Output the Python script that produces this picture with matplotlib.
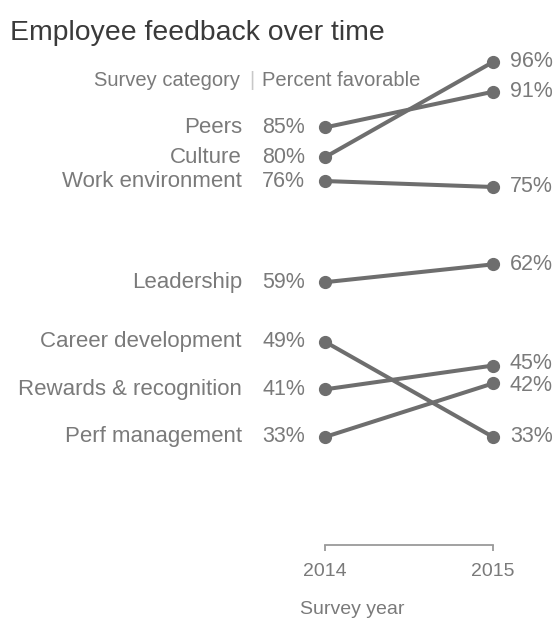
import matplotlib
matplotlib.use("Agg")
import matplotlib.pyplot as plt

plt.rcParams["font.family"] = ["Liberation Sans", "DejaVu Sans"]

# data
categories = ["Peers", "Culture", "Work environment", "Leadership",
              "Career development", "Rewards & recognition", "Perf management"]
values_2014 = [85, 80, 76, 59, 49, 41, 33]
values_2015 = [91, 96, 75, 62, 33, 45, 42]
years = [2014, 2015]
year_labels = ["2014", "2015"]

LINE = "#6e6e6e"
TEXT = "#7a7a7a"
TITLE = "#3a3a3a"

W, H = 557, 621
fig = plt.figure(figsize=(W / 100, H / 100), dpi=100)

# axes box placed so the two year columns sit where the reference has them
ax = fig.add_axes([325 / W, (H - 545) / H, 168 / W, (545 - 38) / H])
ax.set_xlim(years[0], years[1])
ax.set_ylim(14.85, 100.03)

# small vertical nudges for the crowded 45% / 42% labels on the right
right_nudge = {"Rewards & recognition": 2, "Perf management": -2}

for cat, v0, v1 in zip(categories, values_2014, values_2015):
    ax.plot(years, [v0, v1], color=LINE, lw=2.9, marker="o", ms=8.5,
            solid_capstyle="round", clip_on=False, zorder=3)
    ax.annotate(cat, xy=(years[0], v0), xytext=(-83, 0), textcoords="offset pixels",
                ha="right", va="center", fontsize=16, color=TEXT)
    ax.annotate(f"{v0}%", xy=(years[0], v0), xytext=(-20, 0), textcoords="offset pixels",
                ha="right", va="center", fontsize=15.5, color=TEXT)
    ax.annotate(f"{v1}%", xy=(years[1], v1), xytext=(17, right_nudge.get(cat, 0)),
                textcoords="offset pixels",
                ha="left", va="center", fontsize=15.5, color=TEXT)

# only the bracket-like bottom axis
for side in ["left", "right", "top"]:
    ax.spines[side].set_visible(False)
ax.spines["bottom"].set_color("#9a9a9a")
ax.spines["bottom"].set_linewidth(1.3)
ax.spines["bottom"].set_bounds(years[0], years[1])
ax.set_yticks([])
ax.set_xticks(years)
ax.set_xticklabels(year_labels)
ax.tick_params(axis="x", direction="out", length=4, width=1.3, color="#9a9a9a",
               labelsize=14, labelcolor=TEXT, pad=9)
ax.annotate("Survey year", xy=(years[0], 0), xycoords=("data", "axes fraction"),
            xytext=(-25, -56), textcoords="offset pixels",
            ha="left", va="top", fontsize=14, color=TEXT)

# title and column header
fig.text(10 / W, 1 - 40 / H, "Employee feedback over time", fontsize=20.4,
         color=TITLE, ha="left", va="baseline")
fig.text(240 / W, 1 - 80 / H, "Survey category", fontsize=14.5, color=TEXT,
         ha="right", va="center")
fig.text(252 / W, 1 - 80 / H, "|", fontsize=14.5, color="#c8c8c8",
         ha="center", va="center")
fig.text(262 / W, 1 - 80 / H, "Percent favorable", fontsize=14.5, color=TEXT,
         ha="left", va="center")

fig.savefig("out.png", dpi=100)
